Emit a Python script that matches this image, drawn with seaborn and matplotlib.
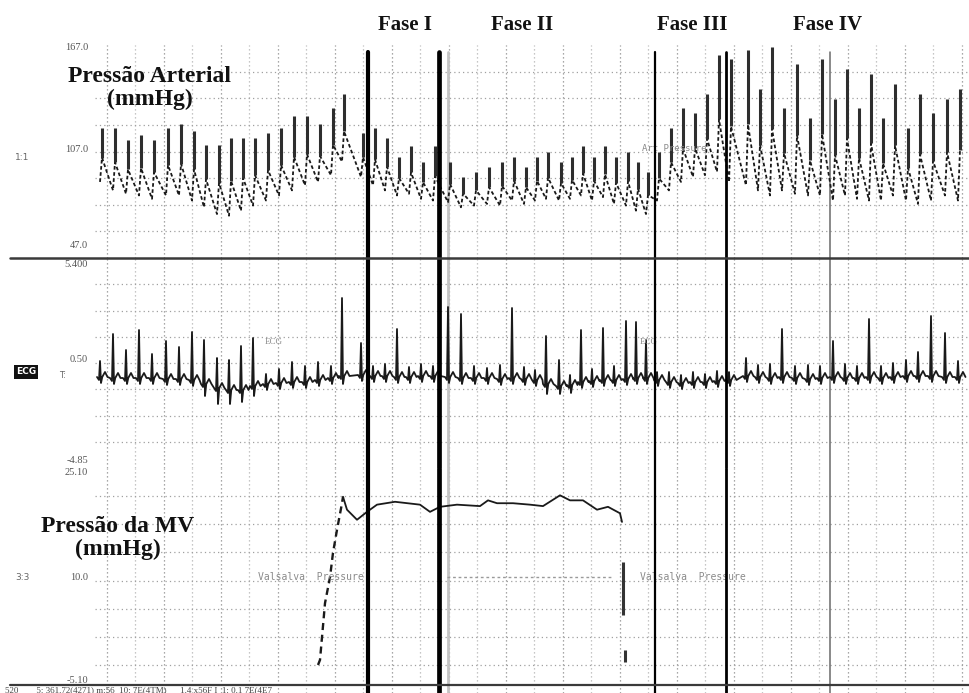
"""
plot.py - recreates a scanned polygraph strip (arterial pressure, ECG and
Valsalva manoeuvre pressure) with the four Valsalva phases marked.
"""

import matplotlib
matplotlib.use("Agg")
import matplotlib.pyplot as plt
from matplotlib.lines import Line2D
import numpy as np
import pandas as pd
import seaborn as sns


# beat times (s) - one entry per heart beat
beat_t = [0.20, 0.72, 1.24, 1.76, 2.28, 2.84, 3.36, 3.88, 4.36, 4.88, 5.36, 5.84, 6.32,
          6.84, 7.36, 7.88, 8.40, 8.92, 9.44, 9.88,
          10.64, 11.12, 11.60, 12.08, 12.56, 13.04, 13.52,
          14.12, 14.64, 15.16, 15.68, 16.20, 16.68, 17.16, 17.60, 18.04, 18.56,
          19.00, 19.44, 19.88, 20.32, 20.76, 21.24, 21.64, 22.04,
          22.48, 22.96, 23.44, 23.92, 24.40, 24.88, 25.36,
          26.04, 26.52, 27.00, 27.48, 28.00, 28.52, 29.00, 29.52, 30.00,
          30.48, 30.96, 31.44, 31.92, 32.44, 32.92, 33.44, 34.00, 34.52]

# arterial pressure (mmHg)
sys_mmhg = [119, 119, 112, 115, 112, 119, 121, 117, 109, 109, 113, 113, 113,
            116, 119, 126, 126, 121, 131, 139,
            116, 119, 113, 102, 108, 99, 108,
            99, 90, 93, 96, 99, 102, 96, 102, 105, 99,
            102, 108, 102, 108, 102, 105, 99, 93,
            105, 119, 131, 128, 139, 162, 160,
            165, 142, 167, 131, 157, 125, 160, 136, 154,
            131, 151, 125, 145, 119, 139, 128, 136, 142]
dia_mmhg = [87, 82, 80, 79, 77, 79, 79, 76, 72, 68, 67, 70, 73,
            76, 79, 82, 85, 87, 91, 99,
            90, 85, 82, 79, 80, 77, 76,
            75, 72, 73, 74, 73, 76, 74, 76, 77, 76,
            77, 79, 76, 78, 74, 73, 70, 68,
            76, 82, 87, 90, 91, 93, 87,
            85, 82, 79, 82, 80, 79, 79, 76, 79,
            77, 76, 76, 79, 76, 74, 76, 79, 76]

# ECG: baseline, R-wave height and S-wave depth per beat
ecg_base = [-0.45, -0.5, -0.5, -0.5, -0.5, -0.55, -0.55, -0.6, -0.8, -1.0, -1.1, -1.1, -0.9,
            -0.8, -0.75, -0.7, -0.7, -0.6, -0.5, -0.4,
            -0.35, -0.4, -0.4, -0.45, -0.45, -0.4, -0.4,
            -0.45, -0.5, -0.5, -0.5, -0.55, -0.5, -0.55, -0.6, -0.8, -0.9,
            -0.85, -0.7, -0.65, -0.6, -0.6, -0.55, -0.5, -0.5,
            -0.6, -0.7, -0.75, -0.7, -0.7, -0.65, -0.6,
            -0.4, -0.45, -0.5, -0.45, -0.5, -0.55, -0.5, -0.45, -0.5,
            -0.5, -0.45, -0.5, -0.45, -0.4, -0.4, -0.4, -0.45, -0.45]
ecg_r = [0.8, 2.2, 1.4, 2.4, 1.2, 1.9, 1.6, 2.4, 2.2, 1.5, 1.5, 2.2, 2.4,
         0.5, 0.7, 1.0, 0.8, 0.9, 0.6, 3.9,
         1.6, 0.5, 0.6, 2.4, 0.5, 0.6, 0.5,
         3.5, 3.2, 0.6, 0.5, 0.7, 3.5, 0.6, 0.5, 2.4, 1.3,
         0.5, 2.6, 0.6, 2.6, 0.7, 2.9, 2.8, 1.9,
         0.4, 0.5, 0.4, 0.5, 0.4, 0.5, 0.4,
         0.9, 0.6, 0.7, 2.4, 0.6, 0.7, 0.6, 1.8, 0.7,
         0.6, 2.9, 0.6, 0.7, 0.8, 1.2, 3.0, 2.2, 0.8]
ecg_s = [0.3, 0.3, 0.3, 0.3, 0.3, 0.3, 0.3, 0.3, 0.6, 0.8, 0.7, 0.6, 0.5,
         0.3, 0.3, 0.3, 0.3, 0.3, 0.3, 0.4,
         0.3, 0.3, 0.3, 0.3, 0.3, 0.3, 0.3,
         0.3, 0.3, 0.3, 0.3, 0.3, 0.3, 0.3, 0.3, 0.5, 0.4,
         0.4, 0.3, 0.3, 0.3, 0.3, 0.3, 0.3, 0.3,
         0.3, 0.3, 0.3, 0.3, 0.3, 0.3, 0.3,
         0.3, 0.3, 0.3, 0.3, 0.3, 0.3, 0.3, 0.3, 0.3,
         0.3, 0.3, 0.3, 0.3, 0.3, 0.3, 0.3, 0.3, 0.3]

# Valsalva (MV) pressure: rise, plateau and release
mv_rise_t = [8.92, 9.00, 9.20, 9.40, 9.52, 9.68, 9.88, 9.92]
mv_rise_v = [-2.3, -1.6, 6.3, 9.9, 13.3, 16.5, 20.2, 21.1]
mv_hold_t = [9.92, 10.08, 10.48, 10.88, 11.28, 12.0, 13.0, 13.4, 13.8, 14.48, 15.4, 15.72,
             16.08, 16.72, 17.4, 17.92, 18.6, 19.0, 19.52, 20.08, 20.52, 21.0, 21.08]
mv_hold_v = [21.1, 19.3, 17.9, 19.0, 20.0, 20.4, 20.0, 19.0, 19.7, 20.0, 19.8, 20.6,
             20.2, 20.2, 20.0, 19.8, 21.3, 20.6, 20.6, 19.3, 19.7, 18.8, 17.6]
mv_drop_t = [21.12, 21.20]
mv_drop_hi = [12.0, -0.2]
mv_drop_lo = [4.6, -1.9]

# phase markers (s)
phase_t = [10.92, 13.76, 22.4, 25.24]
phase_names = ["Fase I", "Fase II", "Fase III", "Fase IV"]
phase_label_t = [12.4, 17.08, 23.88, 29.32]

# channel scales
bp_ticks, bp_labels = [47, 107, 167], ["47.0", "107.0", "167.0"]
ecg_ticks, ecg_labels = [5.4, 0.5, -4.85], ["5.400", "0.50", "-4.85"]
mv_ticks, mv_labels = [25.1, 10.0, -5.1], ["25.10", "10.0", "-5.10"]


# ── Figure setup ─────────────────────────────────────────────────────────────

sns.set_theme(style="white")
plt.rcParams['font.family'] = ['DejaVu Sans']

W, H = 970, 693
fig = plt.figure(figsize=(W / 100, H / 100), dpi=100)
fig.patch.set_facecolor("white")

SERIF = ['Liberation Serif', 'DejaVu Serif']
INK = "#1a1a1a"


def px_axes(x0, y0, x1, y1):
    """Axes placed with pixel coordinates measured from the top-left corner."""
    return fig.add_axes([x0 / W, 1 - y1 / H, (x1 - x0) / W, (y1 - y0) / H])


def fig_line(x0, y0, x1, y1, **kw):
    fig.add_artist(Line2D([x0 / W, x1 / W], [1 - y0 / H, 1 - y1 / H], **kw))


def strip_grid(ax, ylim, ticks, labels):
    ax.set_xlim(0, 35)
    ax.set_ylim(*ylim)
    ax.set_xticks([])
    ax.set_yticks(ticks)
    ax.set_yticklabels(labels, fontsize=7.5, color="#555555", family=SERIF)
    ax.tick_params(axis="y", length=0, pad=5)
    for sp in ax.spines.values():
        sp.set_visible(False)
    ax.set_facecolor("none")
    # recorder grid: dotted verticals and 8 divisions per channel
    for k, xg in enumerate(np.arange(0.48, 35, 1.14)):
        ax.axvline(xg, color="#8c8c8c" if k % 2 == 0 else "#b4b4b4",
                   lw=0.9, ls=(0, (1, 2.2)), zorder=0)
    for f in np.linspace(0, 1, 9)[1:-1]:
        ax.plot([0, 1], [f, f], transform=ax.transAxes, color="#a0a0a0",
                lw=0.9, ls=(0, (1, 2.5)), zorder=0)


ax_bp = px_axes(95, 45, 970, 258)
ax_ecg = px_axes(95, 258, 970, 468)
ax_mv = px_axes(95, 468, 970, 693)

strip_grid(ax_bp, (42, 168), bp_ticks, bp_labels)
strip_grid(ax_ecg, (-5.0, 5.5), ecg_ticks, ecg_labels)
strip_grid(ax_mv, (-6.2, 25.1), mv_ticks, mv_labels)

# stacked scale labels at the channel borders
ax_bp.get_yticklabels()[0].set_va("bottom")
ax_ecg.get_yticklabels()[0].set_va("top")
ax_ecg.get_yticklabels()[-1].set_va("bottom")
ax_mv.get_yticklabels()[0].set_va("top")
ax_mv.get_yticklabels()[-1].set_va("bottom")


# ── Arterial pressure ────────────────────────────────────────────────────────

bt = np.array(beat_t)
sys_a = np.array(sys_mmhg, dtype=float)
dia_a = np.array(dia_mmhg, dtype=float)
mid_a = dia_a + 0.45 * (sys_a - dia_a)

bp_x = np.column_stack([bt, bt + 0.08]).ravel()
bp_y = np.column_stack([dia_a, mid_a]).ravel()
bp_df = pd.DataFrame({"t": bp_x, "p": bp_y})
sns.lineplot(data=bp_df, x="t", y="p", ax=ax_bp, sort=False, estimator=None,
             color=INK, lw=1.3, ls=(0, (2, 1.4)))
ax_bp.vlines(bt + 0.08, mid_a, sys_a, color="#2e2e2e", lw=2.2)
ax_bp.set_xlabel("")
ax_bp.set_ylabel("")


# ── ECG ──────────────────────────────────────────────────────────────────────

qrs_dt = [-0.12, -0.04, 0.0, 0.04, 0.09, 0.20, 0.30]
ecg_x, ecg_y = [], []
for t, b, r, s in zip(beat_t, ecg_base, ecg_r, ecg_s):
    shape = [b, b - 0.15, b + r, b - s, b, b + 0.25, b]
    ecg_x += [t + d for d in qrs_dt]
    ecg_y += shape
ecg_df = pd.DataFrame({"t": ecg_x, "mv": ecg_y})
sns.lineplot(data=ecg_df, x="t", y="mv", ax=ax_ecg, sort=False, estimator=None,
             color=INK, lw=1.3)
ax_ecg.set_xlabel("")
ax_ecg.set_ylabel("")


# ── Valsalva pressure ────────────────────────────────────────────────────────

sns.lineplot(x=mv_rise_t, y=mv_rise_v, ax=ax_mv, sort=False, estimator=None,
             color=INK, lw=1.7, ls=(0, (3, 2)))
sns.lineplot(x=mv_hold_t, y=mv_hold_v, ax=ax_mv, sort=False, estimator=None,
             color=INK, lw=1.3)
ax_mv.vlines(mv_drop_t, mv_drop_lo, mv_drop_hi, color="#333333", lw=2.2)
ax_mv.plot([14.08, 20.72], [10.0, 10.0], color="#9a9a9a", lw=1.0, ls=(0, (2, 2)))
ax_mv.set_xlabel("")
ax_mv.set_ylabel("")

for x0 in (6.52, 21.8):
    ax_mv.text(x0, 10.0, "Valsalva  Pressure", fontsize=7, color="#8a8a8a",
               family="DejaVu Sans Mono", va="center")
for x0 in (6.8, 21.8):
    ax_ecg.text(x0, 1.2, "ECG", fontsize=6.5, color="#8a8a8a", family=SERIF)
ax_bp.text(21.9, 107, "Art Pressure", fontsize=6.5, color="#8a8a8a",
           family="DejaVu Sans Mono", va="center")


# ── Phase markers and separators ─────────────────────────────────────────────

top_frac = (258 - 52) / 213
for t, lw in zip(phase_t, [3.0, 3.4, 1.6, 2.0]):
    ax_bp.axvline(t, ymax=top_frac, color="black", lw=lw, zorder=5)
    ax_ecg.axvline(t, color="black", lw=lw, zorder=5)
    ax_mv.axvline(t, color="black", lw=lw, zorder=5)
for ax in (ax_bp, ax_ecg, ax_mv):
    ax.axvline(14.12, ymax=top_frac if ax is ax_bp else 1, color="#c4c4c4", lw=2.0, zorder=1)
    ax.axvline(29.4, ymax=top_frac if ax is ax_bp else 1, color="#6a6a6a", lw=1.1, zorder=1)

for name, t in zip(phase_names, phase_label_t):
    fig.text((95 + t * 25) / W, 1 - 25 / H, name, ha="center", va="center",
             fontsize=15, fontweight="bold", family=SERIF, color="#111111")

fig_line(10, 258, 970, 258, color="#3a3a3a", lw=1.8)
fig_line(10, 685, 970, 685, color="#3a3a3a", lw=1.6)


# ── Channel titles and side labels ───────────────────────────────────────────

fig.text(150 / W, 1 - 88 / H, "Pressão Arterial\n(mmHg)", ha="center", va="center",
         fontsize=17, fontweight="bold", family=SERIF, color="#111111", linespacing=1.15)
fig.text(118 / W, 1 - 538 / H, "Pressão da MV\n(mmHg)", ha="center", va="center",
         fontsize=17, fontweight="bold", family=SERIF, color="#111111", linespacing=1.15)

fig.text(22 / W, 1 - 157 / H, "1:1", fontsize=6.5, color="#666666", ha="center", va="center")
fig.text(22 / W, 1 - 578 / H, "3:3", fontsize=6.5, color="#666666", ha="center", va="center")
fig.text(26 / W, 1 - 372 / H, "ECG", fontsize=6.5, color="white", ha="center", va="center",
         fontweight="bold",
         bbox=dict(boxstyle="square,pad=0.25", facecolor="#111111", edgecolor="none"))
fig.text(62 / W, 1 - 376 / H, "T:", fontsize=6, color="#666666", ha="center", va="center")

fig.text(5 / W, 1 - 686 / H,
         "520        5: 361.72(4271) m:56  10: 7E(4TM)      1.4 x56F I  1: 0.1 7E(4E7",
         fontsize=6.5, color="#444444", ha="left", va="top", family=SERIF)

fig.savefig("out.png", dpi=100, facecolor="white")
